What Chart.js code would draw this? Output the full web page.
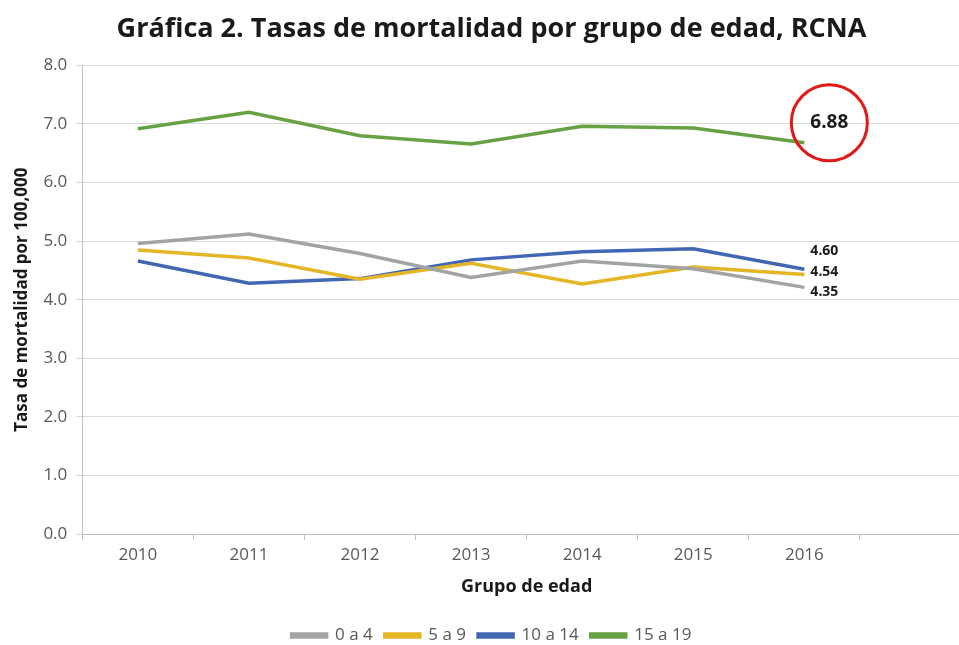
<!DOCTYPE html>
<html>
<head>
<meta charset="utf-8">
<script src="https://cdn.jsdelivr.net/npm/chart.js@4"></script>
<style>
    html, body { margin: 0; padding: 0; background: #fff; overflow: hidden; }
    #wrap { width: 975px; height: 645px; position: relative; }
</style>
</head>
<body>
<div id="wrap"><canvas id="chart"></canvas></div>
<script>
// años (la última categoría queda vacía, como en el original)
const years = ['2010', '2011', '2012', '2013', '2014', '2015', '2016', ''];

const rate0to4 = [4.96, 5.12, 4.79, 4.38, 4.66, 4.53, 4.21];
const rate5to9 = [4.85, 4.71, 4.35, 4.62, 4.27, 4.56, 4.43];
const rate10to14 = [4.66, 4.28, 4.36, 4.68, 4.82, 4.87, 4.52];
const rate15to19 = [6.92, 7.20, 6.80, 6.66, 6.96, 6.93, 6.68];

const seriesNames = ['0 a 4', '5 a 9', '10 a 14', '15 a 19'];
const endLabels = ['4.35', '4.54', '4.60', '6.88'];

const colors = ['#a3a3a3', '#e4b526', '#4267b2', '#66a243'];
const labelShift = [5, -2, -18, -20];

const endLabelPlugin = {
    id: 'endLabels',
    afterDatasetsDraw(chart) {
        const ctx = chart.ctx;
        ctx.save();
        chart.data.datasets.forEach((ds, i) => {
            const meta = chart.getDatasetMeta(i);
            const pt = meta.data[ds.data.length - 1];
            if (!pt) return;
            const x = pt.x + 6;
            const y = pt.y + labelShift[i];
            ctx.fillStyle = '#1a1a1a';
            ctx.textBaseline = 'middle';
            ctx.textAlign = 'left';
            if (i === 3) {
                ctx.font = 'bold 19px "Noto Sans"';
                const w = ctx.measureText(endLabels[i]).width;
                ctx.fillText(endLabels[i], x, y);
                ctx.beginPath();
                ctx.arc(x + w / 2, y, 38, 0, Math.PI * 2);
                ctx.strokeStyle = '#e0191b';
                ctx.lineWidth = 3;
                ctx.stroke();
            } else {
                ctx.font = 'bold 14px "Noto Sans"';
                ctx.fillText(endLabels[i], x, y);
            }
        });
        ctx.restore();
    }
};

const ctx = document.getElementById('chart').getContext('2d');
new Chart(ctx, {
    type: 'line',
    data: {
        labels: years,
        datasets: [rate0to4, rate5to9, rate10to14, rate15to19].map((vals, i) => ({
            label: seriesNames[i],
            data: vals,
            borderColor: colors[i],
            backgroundColor: colors[i],
            borderWidth: 3.5,
            pointRadius: 0,
            tension: 0
        }))
    },
    options: {
        responsive: true,
        maintainAspectRatio: false,
        animation: false,
        layout: {
            padding: { left: 12, right: 4, top: 0, bottom: -9 }
        },
        plugins: {
            title: {
                display: true,
                text: 'Gráfica 2. Tasas de mortalidad por grupo de edad, RCNA',
                color: '#1a1a1a',
                font: { family: '"Open Sans"', size: 27, weight: 'bold' },
                padding: { top: 13, bottom: 20 }
            },
            legend: {
                display: true,
                position: 'bottom',
                labels: {
                    color: '#595959',
                    font: { family: '"Open Sans"', size: 17 },
                    boxWidth: 35,
                    boxHeight: 3,
                    padding: 12
                }
            },
            tooltip: { enabled: false }
        },
        scales: {
            x: {
                offset: true,
                grid: {
                    display: true,
                    offset: true,
                    drawOnChartArea: false,
                    drawTicks: true,
                    tickLength: 6,
                    color: '#bfbfbf'
                },
                border: { color: '#bfbfbf' },
                ticks: {
                    color: '#595959',
                    font: { family: '"Open Sans"', size: 17 },
                    padding: 5,
                    maxRotation: 0
                },
                title: {
                    display: true,
                    text: 'Grupo de edad',
                    color: '#1a1a1a',
                    font: { family: '"Open Sans"', size: 18, weight: 'bold' },
                    padding: { top: 6, bottom: 17 }
                }
            },
            y: {
                min: 0,
                max: 8,
                grid: {
                    color: '#d9d9d9',
                    drawTicks: true,
                    tickLength: 6
                },
                border: { color: '#bfbfbf' },
                ticks: {
                    stepSize: 1,
                    color: '#595959',
                    font: { family: '"Open Sans"', size: 17 },
                    padding: 9,
                    callback: v => v.toFixed(1)
                },
                title: {
                    display: true,
                    text: 'Tasa de mortalidad por 100,000',
                    color: '#1a1a1a',
                    font: { family: '"Open Sans"', size: 17, weight: 'bold' },
                    padding: { top: 0, bottom: 2 }
                }
            }
        }
    },
    plugins: [endLabelPlugin]
});
</script>
</body>
</html>
